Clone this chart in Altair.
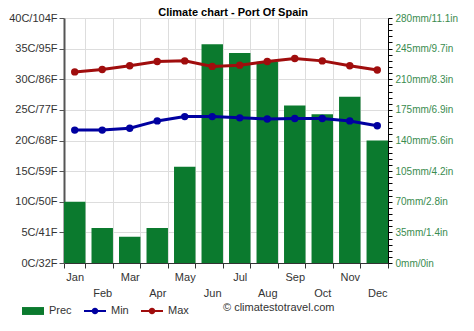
import altair as alt
import pandas as pd

months = ["Jan", "Feb", "Mar", "Apr", "May", "Jun", "Jul", "Aug", "Sep", "Oct", "Nov", "Dec"]
prec_mm = [70, 40, 30, 40, 110, 250, 240, 230, 180, 170, 190, 140]
t_min = [21.7, 21.7, 22.0, 23.2, 23.9, 23.9, 23.7, 23.5, 23.6, 23.6, 23.2, 22.4]
t_max = [31.2, 31.6, 32.2, 32.9, 33.0, 32.1, 32.3, 32.9, 33.4, 33.0, 32.2, 31.5]

temp_ticks = [0, 5, 10, 15, 20, 25, 30, 35, 40]
temp_labels = ["0C/32F", "5C/41F", "10C/50F", "15C/59F", "20C/68F", "25C/77F",
               "30C/86F", "35C/95F", "40C/104F"]
prec_ticks = [0, 35, 70, 105, 140, 175, 210, 245, 280]
prec_labels = ["0mm/0in", "35mm/1.4in", "70mm/2.8in", "105mm/4.2in", "140mm/5.6in",
               "175mm/6.9in", "210mm/8.3in", "245mm/9.7in", "280mm/11.1in"]
series_names = ["Prec", "Min", "Max"]
title_text = "Climate chart - Port Of Spain"
credit_text = "© climatestotravel.com"

GREEN = "#0b7a2e"
BLUE = "#0000a0"
RED = "#a00d0d"
FONT = "Liberation Sans"

bars_df = pd.DataFrame({"month": months, "prec": prec_mm})
min_df = pd.DataFrame({"month": months, "temp": t_min})
max_df = pd.DataFrame({"month": months, "temp": t_max})
legend_df = pd.DataFrame({"series": series_names})
credit_df = pd.DataFrame({"t": [credit_text]})

def js_list(items):
    return "[" + ",".join("'" + str(s) + "'" for s in items) + "]"

x_label_expr = ("indexof(" + js_list(months[1::2]) + ", datum.value) >= 0 ? ['', datum.value] : datum.value")
temp_label_expr = js_list(temp_labels) + "[round(datum.value / 5)]"
prec_label_expr = ("datum.value % 35 == 0 ? " + js_list(prec_labels) + "[round(datum.value / 35)] : ''")

x_enc = alt.X(
    "month:N", sort=months, title=None,
    scale=alt.Scale(domain=months, paddingInner=0.22, paddingOuter=0),
    axis=alt.Axis(
        tickBand="extent", grid=True, gridColor="#dddddd", labelAngle=0,
        labelExpr=x_label_expr, labelOverlap=False, labelPadding=3, labelLineHeight=16,
        labelFont=FONT, labelFontSize=11, labelColor="#333333",
        tickSize=5, tickColor="#333333", domainColor="#333333",
    ),
)

bars = alt.Chart(bars_df).mark_bar(color=GREEN).encode(
    x=x_enc,
    y=alt.Y("prec:Q", title=None,
            scale=alt.Scale(domain=[0, 280], nice=False, zero=True),
            axis=alt.Axis(orient="right", values=list(range(0, 281, 7)), labelExpr=prec_label_expr,
                          grid=False, labelFont=FONT, labelFontSize=10, labelColor="#3a8c4f",
                          tickSize=4, tickColor="#000000", domainColor="#000000",
                          labelPadding=3, labelOverlap=False)),
)

temp_y = alt.Y("temp:Q", title=None,
               scale=alt.Scale(domain=[0, 40], nice=False, zero=True),
               axis=alt.Axis(orient="left", values=temp_ticks, labelExpr=temp_label_expr,
                             grid=True, gridColor="#dddddd", labelFont=FONT, labelFontSize=11,
                             labelColor="#333333", tickSize=5, tickColor="#555555",
                             domainColor="#555555", domainWidth=2, labelPadding=2))

min_line = alt.Chart(min_df).mark_line(
    color=BLUE, strokeWidth=3,
    point=alt.OverlayMarkDef(color=BLUE, size=55, filled=True)
).encode(x=x_enc, y=temp_y)

max_line = alt.Chart(max_df).mark_line(
    color=RED, strokeWidth=3,
    point=alt.OverlayMarkDef(color=RED, size=55, filled=True)
).encode(x=x_enc, y=temp_y)

temps = alt.layer(min_line, max_line)

RECT_PATH = "M-1,-0.36H1V0.36H-1Z"
LINE_PATH = ("M-1,-0.09H-0.28V0.09H-1Z M0.28,-0.09H1V0.09H0.28Z "
             "M0.3,0A0.3,0.3 0 1,1 -0.3,0A0.3,0.3 0 1,1 0.3,0Z")

leg = alt.Legend(orient="none", legendX=-42, legendY=282, direction="horizontal", title=None,
                 symbolSize=484, symbolOpacity=1, symbolStrokeWidth=0,
                 labelFont=FONT, labelFontSize=11, labelColor="#333333",
                 labelOffset=5, columnPadding=12)

legend_layer = alt.Chart(legend_df).mark_point(filled=True, opacity=0).encode(
    color=alt.Color("series:N", sort=series_names,
                    scale=alt.Scale(domain=series_names, range=[GREEN, BLUE, RED]), legend=leg),
    shape=alt.Shape("series:N", sort=series_names,
                    scale=alt.Scale(domain=series_names, range=[RECT_PATH, LINE_PATH, LINE_PATH]),
                    legend=leg),
)

credit = alt.Chart(credit_df).mark_text(
    align="left", baseline="middle", font=FONT, fontSize=11, color="#333333"
).encode(text="t:N", x=alt.value(159), y=alt.value(290))

chart = alt.layer(bars, temps, legend_layer, credit).resolve_scale(
    y="independent"
).properties(
    width=324, height=245,
    title=alt.TitleParams(title_text, font=FONT, fontSize=11, fontWeight="bold",
                          anchor="middle", frame="bounds", offset=-6, color="#000000"),
    autosize=alt.AutoSizeParams(type="none"),
    padding={"left": 64, "top": 18, "right": 86, "bottom": 68},
).configure_view(stroke=None).configure(background="white")

chart.save("out.html", embed_options={"renderer": "svg", "actions": False})
